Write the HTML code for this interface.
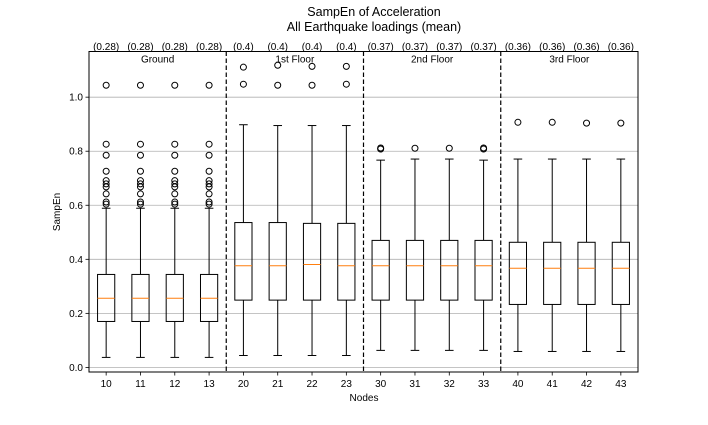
<!DOCTYPE html>
<html><head><meta charset="utf-8"><style>
body{margin:0;background:#fff;}
svg{display:block;font-family:"Liberation Sans","DejaVu Sans",sans-serif;}
</style></head><body>
<svg id="c" width="708" height="425">
<text x="374" y="16" text-anchor="middle" font-size="12.5">SampEn of Acceleration</text>
<text x="374" y="31" text-anchor="middle" font-size="12.5">All Earthquake loadings (mean)</text>
<g id="grid"></g><g id="marks"></g><g id="axes"></g>
<text x="364" y="401" text-anchor="middle" font-size="10">Nodes</text>
<text x="0" y="0" transform="translate(60,212) rotate(-90)" text-anchor="middle" font-size="10">SampEn</text>
</svg>
<script>
const categories=["10","11","12","13","20","21","22","23","30","31","32","33","40","41","42","43"];
const topLabels=["(0.28)","(0.28)","(0.28)","(0.28)","(0.4)","(0.4)","(0.4)","(0.4)","(0.37)","(0.37)","(0.37)","(0.37)","(0.36)","(0.36)","(0.36)","(0.36)"];
const whiskLow=[0.037,0.037,0.037,0.037,0.044,0.044,0.044,0.044,0.063,0.063,0.063,0.063,0.059,0.059,0.059,0.059];
const q1=[0.170,0.170,0.170,0.170,0.249,0.249,0.249,0.249,0.249,0.249,0.249,0.249,0.233,0.233,0.233,0.233];
const medians=[0.256,0.256,0.256,0.256,0.376,0.376,0.381,0.376,0.376,0.376,0.376,0.376,0.367,0.367,0.367,0.367];
const q3=[0.344,0.344,0.344,0.344,0.536,0.536,0.533,0.533,0.470,0.470,0.470,0.470,0.463,0.463,0.463,0.463];
const whiskHigh=[0.589,0.589,0.589,0.589,0.898,0.895,0.895,0.895,0.767,0.771,0.771,0.767,0.771,0.771,0.771,0.771];
const groundOut=[1.044,0.826,0.785,0.726,0.691,0.679,0.668,0.642,0.612,0.604];
const outliers=[groundOut,groundOut,groundOut,groundOut,[1.111,1.048],[1.118,1.044],[1.114,1.044],[1.114,1.048],[0.808,0.812],[0.811],[0.811],[0.808,0.812],[0.907],[0.907],[0.904],[0.904]];
const groups=["Ground","1st Floor","2nd Floor","3rd Floor"];
const yTicks=[0.0,0.2,0.4,0.6,0.8,1.0];
const dividers=[4.5,8.5,12.5];
const L=89,R=638,T=51.5,B=372,ymin=-0.017,ymax=1.169;
const xp=p=>L+(p-0.5)*(R-L)/16;
const xs=i=>xp(i+1);
const ys=v=>B-(v-ymin)/(ymax-ymin)*(B-T);
const NS="http://www.w3.org/2000/svg";
function mk(p,tag,a){const e=document.createElementNS(NS,tag);for(const k in a)e.setAttribute(k,a[k]);p.appendChild(e);return e;}
const grid=document.getElementById('grid'),marks=document.getElementById('marks'),axes=document.getElementById('axes');
yTicks.forEach(v=>{
 const g=mk(grid,'line',{x1:L,x2:R,y1:ys(v),y2:ys(v),stroke:'#b0b0b0','stroke-width':0.8});
 
 
 const tk=mk(axes,'line',{x1:L-3.5,x2:L,y1:ys(v),y2:ys(v),stroke:'#000','stroke-width':0.8});
 
 
 const t=mk(axes,'text',{x:L-6,y:ys(v)+3.5,'text-anchor':'end','font-size':10});
 t.textContent=v.toFixed(1);
 
 
});
categories.forEach((c,i)=>{
 const x=xs(i),w=8.6,cw=4.3;
 const g=mk(marks,'g',{});
 
 
 const s={stroke:'#000','stroke-width':1,fill:'none'};
 mk(g,'line',Object.assign({x1:x,x2:x,y1:ys(whiskLow[i]),y2:ys(q1[i])},s));
 mk(g,'line',Object.assign({x1:x,x2:x,y1:ys(q3[i]),y2:ys(whiskHigh[i])},s));
 mk(g,'line',Object.assign({x1:x-cw,x2:x+cw,y1:ys(whiskLow[i]),y2:ys(whiskLow[i])},s));
 mk(g,'line',Object.assign({x1:x-cw,x2:x+cw,y1:ys(whiskHigh[i]),y2:ys(whiskHigh[i])},s));
 mk(g,'rect',Object.assign({x:x-w,y:ys(q3[i]),width:2*w,height:ys(q1[i])-ys(q3[i])},s));
 mk(g,'line',{x1:x-w,x2:x+w,y1:ys(medians[i]),y2:ys(medians[i]),stroke:'#ff7f0e','stroke-width':1});
 outliers[i].forEach(v=>{const o=mk(g,'circle',{cx:x,cy:ys(v),r:3,fill:'none',stroke:'#000','stroke-width':1});
  
  });
 const tk=mk(axes,'line',{x1:x,x2:x,y1:B,y2:B+3.5,stroke:'#000','stroke-width':0.8});
 
 
 const t=mk(axes,'text',{x:x,y:B+15,'text-anchor':'middle','font-size':10});
 t.textContent=c;
 
 
 const tl=mk(axes,'text',{x:x,y:B-322,'text-anchor':'middle','font-size':10});
 tl.textContent=topLabels[i];
 
 
});
dividers.forEach(p=>{const X=xp(p);
 const d=mk(axes,'line',{x1:X,x2:X,y1:T,y2:B,stroke:'#000','stroke-width':1.2,'stroke-dasharray':'4.5,2.5'});
 
 });
groups.forEach((g,k)=>{const t=mk(axes,'text',{x:xp(k*4+2.5),y:T+11,'text-anchor':'middle','font-size':10});
 t.textContent=g;
 
 });
const f=mk(axes,'rect',{x:L,y:T,width:R-L,height:B-T,fill:'none',stroke:'#000','stroke-width':1});


</script>
</body></html>
